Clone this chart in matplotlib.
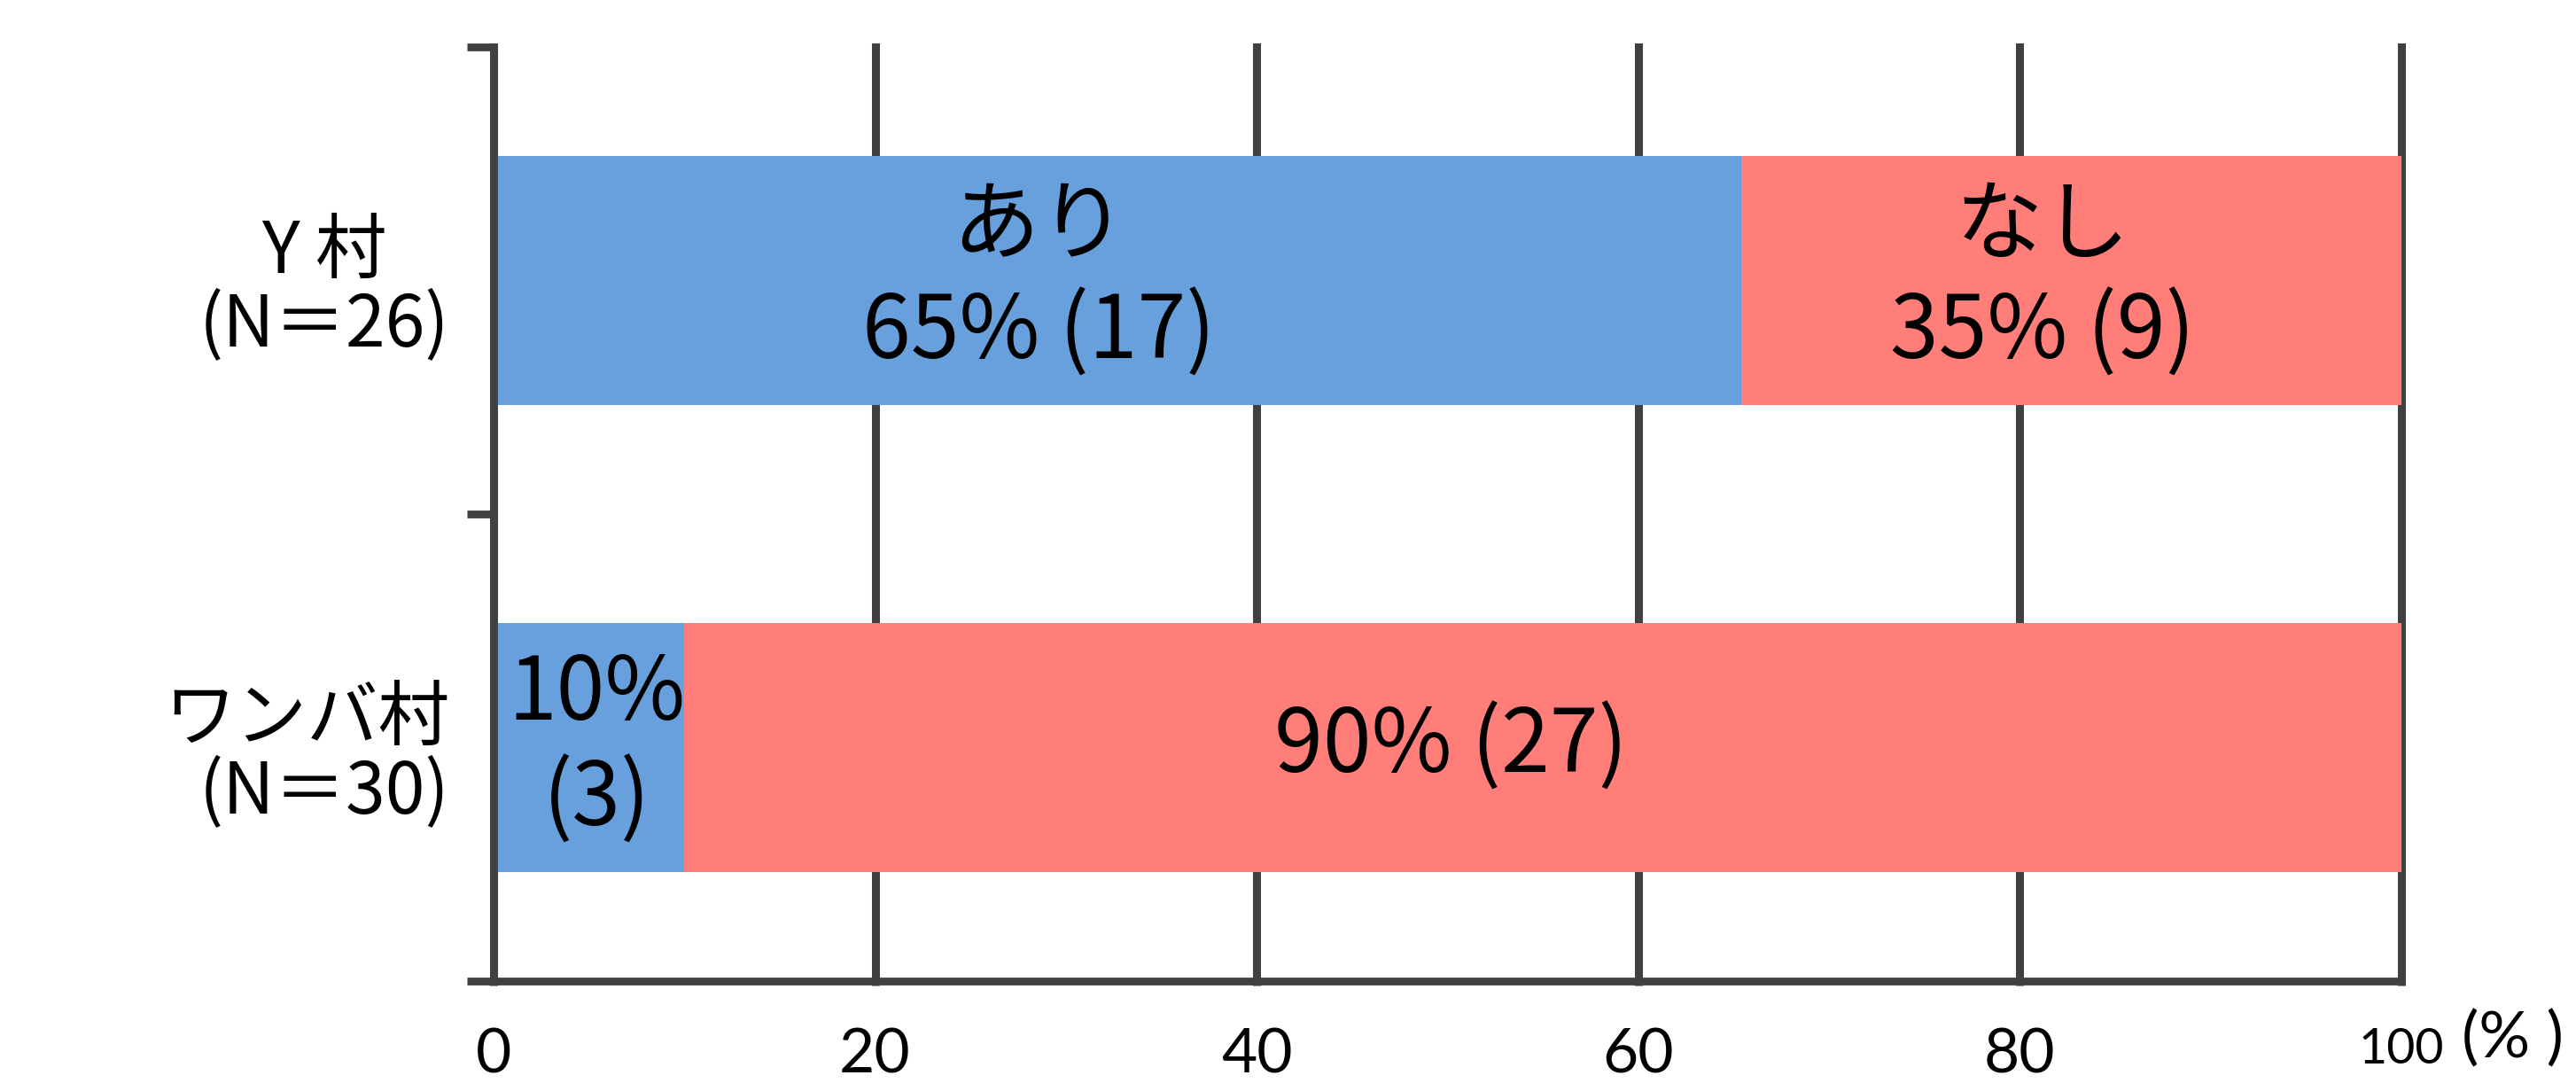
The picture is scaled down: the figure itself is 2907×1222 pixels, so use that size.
import numpy as np
import matplotlib.pyplot as plt

# data
villages = ['Y 村\n(N＝26)', 'ワンバ村\n(N＝30)']
ari = [17, 3]      # あり
nashi = [9, 27]    # なし
xticks = [0, 20, 40, 60, 80, 100]

plt.rcParams['font.family'] = ['Noto Sans CJK JP', 'DejaVu Sans']

n = np.array(ari) + np.array(nashi)
ari_pct = np.array(ari) / n * 100
nashi_pct = np.array(nashi) / n * 100

blue = '#67A0DC'
red = '#FF7E79'
dark = '#404040'

W, H = 2907, 1222
fig = plt.figure(figsize=(W / 100, H / 100), dpi=100)
ax = fig.add_axes([557 / W, 1 - 1107 / H, (2710 - 557) / W, (1107 - 53) / H])

y = np.arange(len(villages))
ax.barh(y, ari_pct, height=0.533, color=blue, zorder=2)
ax.barh(y, nashi_pct, left=ari_pct, height=0.533, color=red, zorder=2)

# bar labels (label x shifted a bit like the original)
ari_labels = ['あり\n%.0f%% (%d)' % (ari_pct[0], ari[0]),
              '%.0f%%\n(%d)' % (ari_pct[1], ari[1])]
nashi_labels = ['なし\n%.0f%% (%d)' % (nashi_pct[0], nashi[0]),
                '%.0f%% (%d)' % (nashi_pct[1], nashi[1])]
ari_dx = [-4.1, 0.4]
nashi_dx = [-1.5, -4.8]
for i in range(len(villages)):
    ax.text(ari_pct[i] / 2 + ari_dx[i], y[i], ari_labels[i], ha='center',
            va='center', fontsize=71, linespacing=1.22, zorder=3)
    ax.text(ari_pct[i] + nashi_pct[i] / 2 + nashi_dx[i], y[i], nashi_labels[i],
            ha='center', va='center', fontsize=71, linespacing=1.22, zorder=3)

ax.set_xlim(0, 100)
ax.set_ylim(1.5, -0.5)

for s in ['top', 'right']:
    ax.spines[s].set_visible(False)
for s in ['left', 'bottom']:
    ax.spines[s].set_color(dark)
    ax.spines[s].set_linewidth(6.3)
    ax.spines[s].set_zorder(4)

ax.grid(axis='x', color=dark, linewidth=6.5, zorder=1)
ax.set_axisbelow(True)
for gl in ax.get_xgridlines():
    gl.set_clip_on(False)

ax.set_xticks(xticks)
ax.set_xticklabels([str(t) for t in xticks])
ax.tick_params(axis='x', length=3.6, width=6.5, color=dark, labelsize=50, pad=34)
for lbl in ax.get_xticklabels():
    lbl.set_fontfamily(['Lato', 'DejaVu Sans'])
ax.get_xticklabels()[-1].set_fontsize(40)

ax.set_yticks([-0.5, 0.5, 1.5])
ax.set_yticklabels([])
ax.tick_params(axis='y', which='major', length=21.6, width=6.3, color=dark)
ax.set_yticks(y, villages, minor=True)
ax.tick_params(axis='y', which='minor', length=0, pad=36, labelsize=58)
ylbls = ax.get_yticklabels(minor=True)
ylbls[0].set_multialignment('center')
ylbls[1].set_multialignment('right')
for lbl in ylbls:
    lbl.set_linespacing(1.0)

fig.text(2835 / W, 1 - 1172 / H, '(% )', ha='center', va='center',
         fontsize=52, family=['Lato', 'DejaVu Sans'])

fig.savefig('out.png', dpi=100, facecolor='white')
